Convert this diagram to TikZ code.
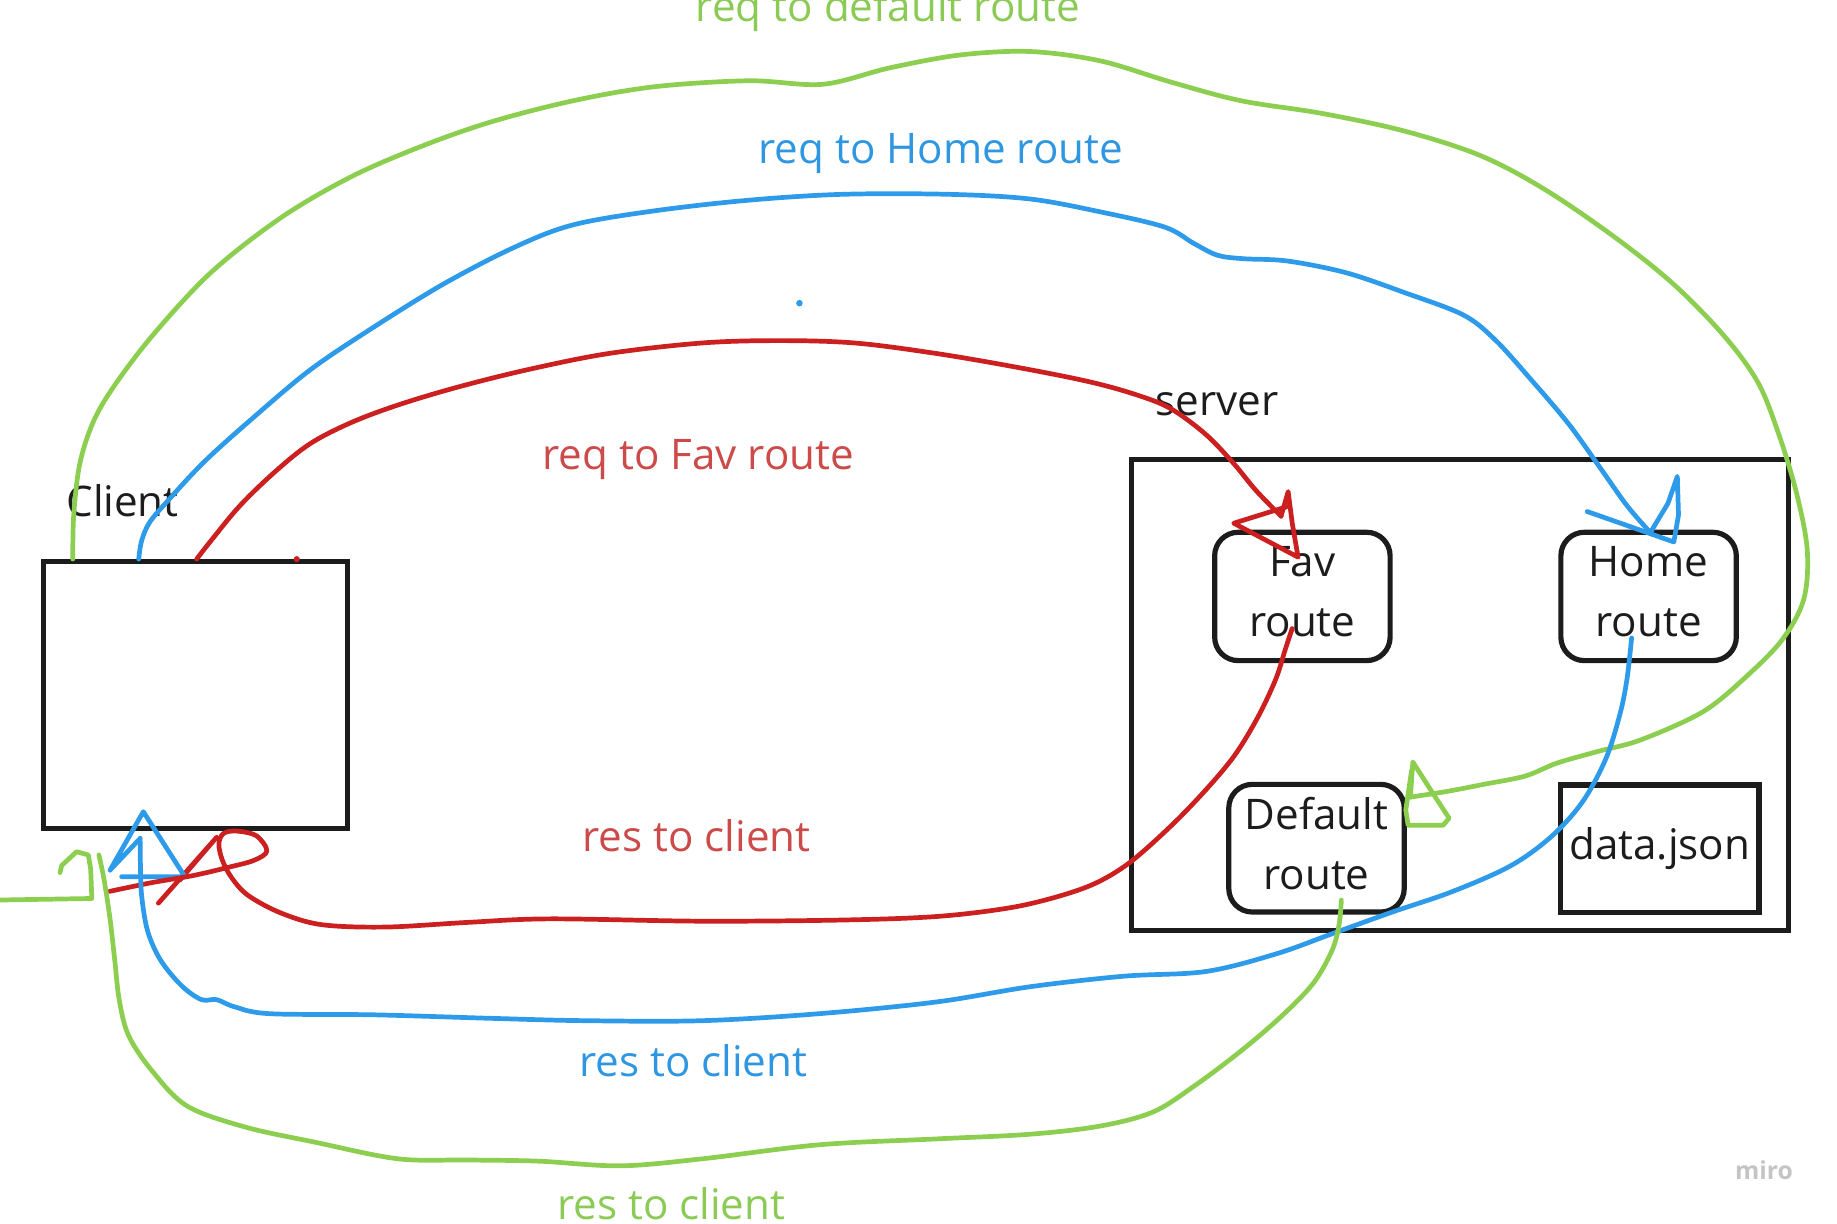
\documentclass[tikz,border=0pt]{standalone}
\usepackage{fontspec}
\setmainfont{Open Sans}
\definecolor{gr}{HTML}{8CCE50}
\definecolor{bl}{HTML}{2D9BEA}
\definecolor{rd}{HTML}{CC2020}
\definecolor{grt}{HTML}{8BCB55}
\definecolor{blt}{HTML}{2F97E2}
\definecolor{rdt}{HTML}{CD4A4A}
\definecolor{ink}{HTML}{1C1C1C}
\definecolor{wm}{HTML}{C4C4C4}
\begin{document}
\begin{tikzpicture}[x=0.5pt,y=-0.5pt,
  every node/.style={font=\fontsize{17.9}{25.35}\selectfont},
  sqbox/.style={draw=ink, line width=2.2pt, inner sep=0pt},
  rbox/.style={draw=ink, line width=2.2pt, inner sep=0pt, rounded corners=10pt,
    minimum width=74.5pt, minimum height=54.5pt, align=center, text=ink, text depth=4pt},
  lbl/.style={anchor=base, inner sep=0pt},
  plain/.style={anchor=base west, inner sep=0pt, text=ink},
  wire/.style={line width=2pt, line cap=round, line join=round},
  curve/.style={wire, smooth, tension=0.55}
]
\useasboundingbox (0,0) rectangle (1560,1039.4);

% boxes
\node[sqbox, minimum width=129.2pt, minimum height=113.2pt] (client) at (166,590.2) {};
\node[sqbox, minimum width=279pt, minimum height=200.2pt] (server) at (1240,590.2) {};
\node[rbox] (fav) at (1106,506.5) {Fav\\route};
\node[rbox] (home) at (1400,506.5) {Home\\route};
\node[rbox, minimum height=54.2pt] (default) at (1118,720.3) {Default\\route};
\node[sqbox, minimum width=84.2pt, minimum height=54.2pt, text=ink] (data) at (1409.5,720.8) {data.json};

% plain texts
\node[plain] (tclient) at (56,439) {Client};
\node[plain] (tserver) at (981,352.5) {server};

% labels
\node[lbl, text=grt] (l1) at (754,18) {req to default route};
\node[lbl, text=blt] (l2) at (799,139) {req to Home route};
\node[lbl, text=rdt] (l3) at (593,398.5) {req to Fav route};
\node[lbl, text=rdt] (l4) at (591.5,723) {res to client};
\node[lbl, text=blt] (l5) at (588.7,914) {res to client};
\node[lbl, text=grt] (l6) at (570,1035.5) {res to client};
\node[text=wm, inner sep=0pt, font=\fontsize{10.5}{12}\selectfont\bfseries] (wmk) at (1498,994) {miro};

% endpoints at the client
\coordinate (gq0) at ([xshift=13.6pt]client.north west);
\coordinate (bq0) at ([xshift=41.6pt]client.north west);
\coordinate (rq0) at ([xshift=0.5pt]client.north);
\coordinate (rsE) at (93,757);
\coordinate (bsE) at (119,712);
\coordinate (gsE) at (84,726);

% near-client arrowheads
\draw[wire, draw=rd] (134.5,767) -- (184,711) -- (152.8,747.3);
\draw[wire, draw=bl] (bsE) -- (93.4,739) -- (121.7,689.3) -- (157,744.5) -- (103.3,744.5);
\draw[wire, draw=gr] (0,764.3) -- (78,763) -- (77,738) -- (75,726) -- (65,723.3) -- (52.4,735) -- (51,741);

\begin{scope}[scale=0.994]
\coordinate (gqE) at (1205,681);
\coordinate (bqE) at (1410,455);
\coordinate (rqE) at (1094.5,441);
\coordinate (rs0) at (1104,537);
\coordinate (bs0) at (1394,545);
\coordinate (gs0) at (1146,769);

% green: req to default route
\draw[curve, draw=gr] plot coordinates {(gq0) (63,440) (68,397) (79,362) (96,332) (130,287) (180,233)
 (240,186) (300,151) (360,125) (420,104) (490,86) (560,74) (640,69) (703,72) (760,58) (820,47)
 (880,44) (940,52) (1000,70) (1060,86) (1130,97) (1200,112) (1265,133) (1320,162) (1380,203)
 (1430,243) (1473,287) (1502,327) (1520,372) (1535,422) (1544,470) (1541,512) (1523,546)
 (1493,577) (1455,608) (1402,632) (1365,642) (1330,652) (1303,663) (1268,670) (1237,676) (gqE)};
\draw[wire, draw=gr] (gqE) -- (1207,651) -- (1223,676) -- (1238,699) -- (1233,705) -- (1203,705) -- (1201,692) -- (1206,658);

% blue: req to Home route
\draw[curve, draw=bl] plot coordinates {(bq0) (121,462) (128,446) (145,426) (175,394) (215,358)
 (265,316) (320,279) (380,242) (440,211) (490,192) (560,180) (640,171) (720,166) (810,166)
 (880,170) (940,181) (995,194) (1020,208) (1040,218) (1062,221) (1100,223) (1150,233)
 (1200,250) (1250,269) (1277,290) (1306,322) (1340,362) (1368,401) (1390,432) (bqE)};
\draw[wire, draw=bl] (bqE) -- (1425,430) -- (1433,407) -- (1434,440) -- (1430,463) -- (1356,437);

% red: req to Fav route
\draw[curve, draw=rd] plot coordinates {(rq0) (181,461) (205,432) (235,403) (265,379) (300,361)
 (340,346) (390,331) (450,316) (520,302) (600,293) (665,291) (730,293) (800,302) (870,314)
 (930,326) (970,337) (1000,349) (1030,371) (1054,396) (1073,419) (rqE)};
\draw[wire, draw=rd] (rqE) -- (1100.5,420) -- (1104,447) -- (1109,476) -- (1054,447) -- (1099,433);

% red: res to client
\draw[curve, draw=rd] plot coordinates {(rs0) (1098,555) (1090,580) (1075,612) (1055,645)
 (1030,675) (1000,706) (965,737) (935,755) (900,767) (860,776) (800,783) (720,786) (600,787)
 (470,785) (400,788) (330,792) (275,790) (240,780) (212,765) (198,750) (190,735) (187,721)
 (191,712) (202,710) (219,714) (228,727) (217,735) (195,741) (165,748) (130,754) (rsE)};

% blue: res to client
\draw[curve, draw=bl] plot coordinates {(bs0) (1390,580) (1384,610) (1372,648) (1352,685)
 (1325,715) (1290,740) (1240,762) (1190,779) (1140,797) (1090,815) (1030,830) (960,834)
 (880,843) (800,856) (700,866) (600,872) (500,872) (420,870) (320,867) (230,866) (200,860)
 (185,854) (172,854) (155,842) (137,820) (126,795) (121,765) (120,740) (bsE)};

% green: res to client
\draw[curve, draw=gr] plot coordinates {(gs0) (1144,790) (1138,812) (1122,840) (1095,868)
 (1060,898) (1020,928) (985,950) (940,962) (880,969) (800,973) (700,978) (600,990) (530,996)
 (460,992) (400,991) (340,990) (270,976) (210,963) (160,945) (130,915) (110,885) (102,855)
 (98,820) (94,785) (89,752) (gsE)};

% stray blue dot
\fill[bl] (683,259) circle (1.4pt);
\end{scope}

% stray red dot on the client box
\fill[rd] ([xshift=43pt]client.north) circle (1.3pt);
\end{tikzpicture}
\end{document}
